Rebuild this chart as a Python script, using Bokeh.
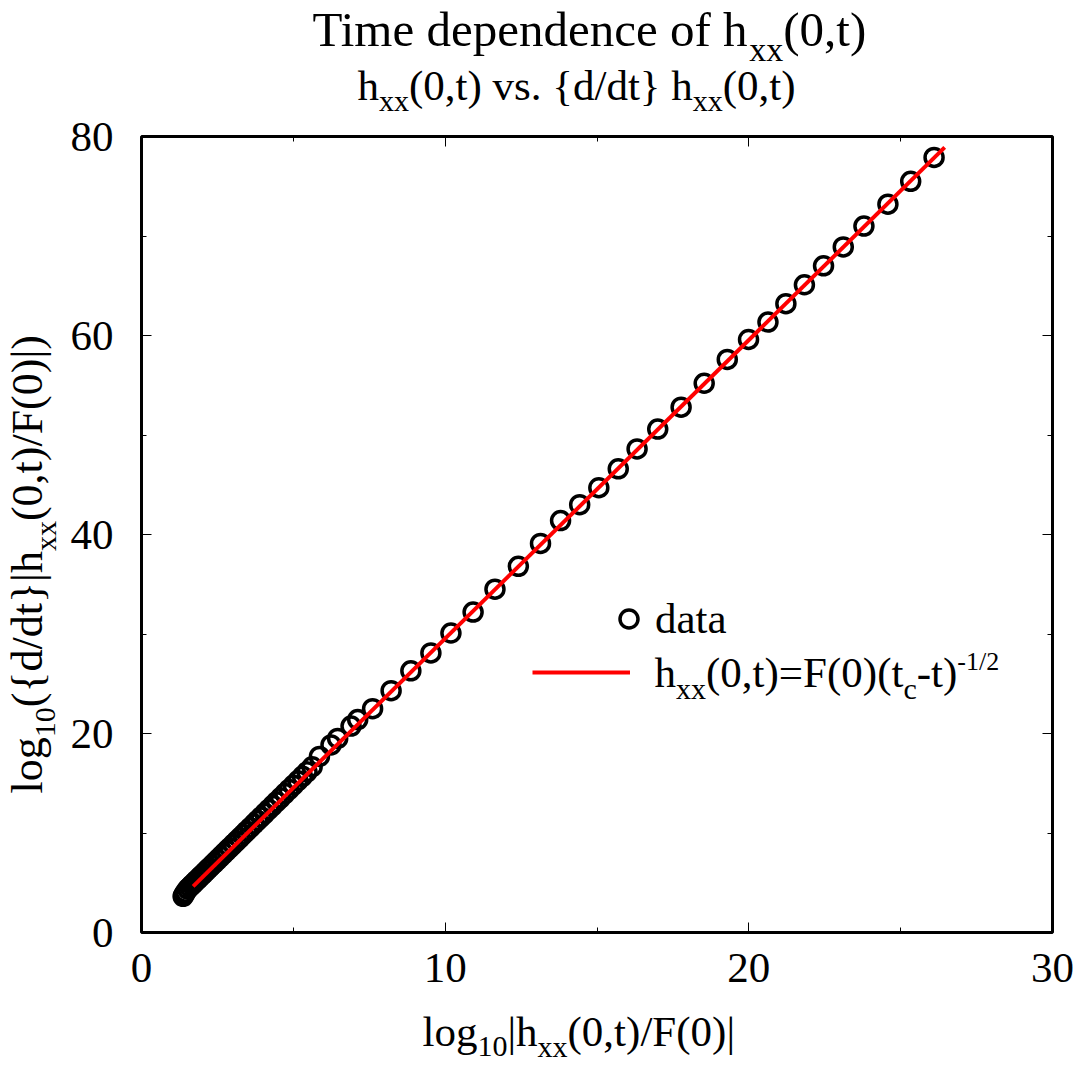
from math import pi
from bokeh.plotting import figure
from bokeh.layouts import column, row
from bokeh.core.properties import value
from bokeh.models import (Range1d, SingleIntervalTicker, LinearAxis, Label,
                          Legend, LegendItem)
from bokeh.embed import file_html
from bokeh.resources import INLINE

# ---------------- data ----------------
data_x = [1.37, 1.40, 1.45, 1.52, 1.59, 1.66, 1.73, 1.81, 1.89, 1.97,
          2.05, 2.14, 2.23, 2.32, 2.41, 2.51, 2.61, 2.71, 2.81, 2.91,
          3.02, 3.13, 3.24, 3.35, 3.46, 3.58, 3.70, 3.82, 3.94, 4.06,
          4.19, 4.32, 4.45, 4.58, 4.72, 4.86, 5.00, 5.15, 5.30, 5.45,
          5.62, 5.86, 6.24, 6.46, 6.90, 7.12, 7.61, 8.22, 8.87, 9.53,
          10.19, 10.92, 11.64, 12.41, 13.14, 13.80, 14.43, 15.06, 15.70, 16.32,
          17.00, 17.77, 18.53, 19.29, 19.99, 20.63, 21.22, 21.83, 22.46, 23.11,
          23.79, 24.58, 25.33, 26.10]
data_y = [3.64, 3.80, 4.05, 4.36, 4.57, 4.78, 4.99, 5.23, 5.47, 5.71,
          5.95, 6.22, 6.49, 6.76, 7.03, 7.33, 7.63, 7.93, 8.23, 8.53,
          8.86, 9.19, 9.52, 9.85, 10.18, 10.54, 10.90, 11.26, 11.62, 11.98,
          12.37, 12.76, 13.15, 13.54, 13.96, 14.38, 14.80, 15.25, 15.70, 16.15,
          16.66, 17.70, 18.85, 19.50, 20.75, 21.40, 22.50, 24.30, 26.30, 28.10,
          30.10, 32.20, 34.50, 36.80, 39.10, 41.40, 43.00, 44.70, 46.60, 48.60,
          50.60, 52.80, 55.20, 57.60, 59.60, 61.35, 63.20, 65.10, 67.00, 68.90,
          71.00, 73.20, 75.50, 77.90]

# fitted power law h = F(0)(t_c - t)^(-1/2)  ->  straight line of slope 3
fit_x = [1.70, 26.45]
fit_y = [4.64, 78.90]

x_ticks = [0, 10, 20, 30]
y_ticks = [0, 20, 40, 60, 80]

legend_data = "data"

# ---------------- layout constants (page pixels) ----------------
FONT = "Liberation Serif"
PW, PH = 1080, 1064                   # whole page area used
FL, FR, FT, FB = 141, 1052, 136, 932  # frame edges
TOP_H = 117                           # title strip height
LEFT_W = 66                           # y-label strip width
MAIN_BOTTOM = 1004                    # bottom of main figure
X_MAX, Y_MAX = x_ticks[-1], y_ticks[-1]
K = 0.36   # bokeh places the glyph baseline ~K*size below the anchor


def strip(width, x0, y0, y1, ft=None, fb=None):
    """Blank figure; data units = page pixels (y given as -page_y).
    ft/fb: frame top/bottom (so that the frame lines up with the main plot)."""
    ft = y0 if ft is None else ft
    fb = y1 if fb is None else fb
    f = figure(width=width, height=y1 - y0,
               x_range=Range1d(x0, x0 + width), y_range=Range1d(-fb, -ft),
               output_backend="svg", toolbar_location=None,
               x_axis_type=None, y_axis_type=None, min_border=0,
               min_border_top=ft - y0, min_border_bottom=y1 - fb)
    f.outline_line_color = None
    f.xgrid.visible = False
    f.ygrid.visible = False
    f.background_fill_color = "white"
    f.border_fill_color = "white"
    return f


W = {'T': 611, 'i': 278, 'm': 778, 'e': 444, ' ': 250, 'd': 500, 'p': 500,
     'n': 500, 'c': 444, 'o': 500, 'f': 333, 'h': 500, 'x': 500, '(': 333,
     ')': 333, '0': 500, '1': 500, '2': 500, ',': 250, 't': 278, 'v': 500,
     's': 389, '.': 250, '{': 480, '}': 480, '/': 278, 'l': 278, 'g': 500,
     '|': 200, 'F': 556, '=': 564, '-': 333}


def tw(s, size):
    return sum(W.get(c, 500) for c in s) * size / 1000.0


def strip_text_h(f, segs, x0, base, size, sub, sub_shift):
    x = x0
    for text, kind in segs:
        fs, b = (size, base) if kind == "n" else (sub, base + sub_shift)
        f.text(x=[x], y=[-(b - K * fs)], text=[text], text_font=value(FONT),
               text_font_size=value(f"{fs}px"), text_color="black",
               text_align="left", text_baseline="alphabetic")
        x += tw(text, fs)


def strip_text_v(f, segs, y0, base, size, sub, sub_shift):
    y = y0
    for text, kind in segs:
        fs, b = (size, base) if kind == "n" else (sub, base + sub_shift)
        w = tw(text, fs)
        f.text(x=[b - K * fs], y=[-(y - w / 2)], text=[text], text_font=value(FONT),
               text_font_size=value(f"{fs}px"), text_color="black",
               text_align="center", text_baseline="alphabetic", angle=pi / 2)
        y -= w


# ---------------- title strip ----------------
top = strip(PW, 0, 0, TOP_H)
strip_text_h(top, [("Time dependence of h", "n"), ("xx", "sub"), ("(0,t)", "n")],
             312, 47, 49, 34, 14)
strip_text_h(top, [("h", "n"), ("xx", "sub"), ("(0,t) vs. {d/dt} h", "n"),
                   ("xx", "sub"), ("(0,t)", "n")], 357, 100, 43, 30, 10.5)

# ---------------- y-label strip ----------------
left = strip(LEFT_W, 0, TOP_H, MAIN_BOTTOM, FT, FB)
strip_text_v(left, [("log", "n"), ("10", "sub"), ("({d/dt}|h", "n"), ("xx", "sub"),
                    ("(0,t)/F(0)|)", "n")], 793, 43, 44, 30, 13)

# ---------------- x-label strip ----------------
bottom = strip(PW, 0, MAIN_BOTTOM, PH)
strip_text_h(bottom, [("log", "n"), ("10", "sub"), ("|h", "n"), ("xx", "sub"),
                      ("(0,t)/F(0)|", "n")], 422, 1046, 43, 30, 11)

# ---------------- main plot ----------------
p = figure(width=PW - LEFT_W, height=MAIN_BOTTOM - TOP_H,
           x_range=Range1d(x_ticks[0], X_MAX), y_range=Range1d(y_ticks[0], Y_MAX),
           output_backend="svg", toolbar_location=None,
           min_border_left=FL - LEFT_W, min_border_right=PW - FR,
           min_border_top=FT - TOP_H, min_border_bottom=MAIN_BOTTOM - FB)
p.background_fill_color = "white"
p.border_fill_color = "white"
p.outline_line_color = "black"
p.outline_line_width = 3
p.xgrid.visible = False
p.ygrid.visible = False


def style_axis(ax, show_labels):
    ax.axis_line_color = None
    ax.major_tick_in = 10
    ax.major_tick_out = 0
    ax.minor_tick_in = 5
    ax.minor_tick_out = 0
    ax.major_tick_line_color = "black"
    ax.minor_tick_line_color = "black"
    ax.major_tick_line_width = 1
    ax.minor_tick_line_width = 1
    ax.major_label_text_font = FONT
    if show_labels:
        ax.major_label_text_color = "black"
        ax.major_label_text_font_size = "43px"
    else:
        ax.major_label_text_color = None
        ax.major_label_text_font_size = "1px"
        ax.major_label_standoff = 0


xt = lambda: SingleIntervalTicker(interval=x_ticks[1] - x_ticks[0], num_minor_ticks=2)
yt = lambda: SingleIntervalTicker(interval=y_ticks[1] - y_ticks[0], num_minor_ticks=2)

p.xaxis.ticker = xt()
p.yaxis.ticker = yt()
style_axis(p.xaxis[0], True)
style_axis(p.yaxis[0], True)
p.xaxis.major_label_standoff = 21
p.yaxis.major_label_standoff = 28

top_ax = LinearAxis(ticker=xt())
style_axis(top_ax, False)
p.add_layout(top_ax, "above")
right_ax = LinearAxis(ticker=yt())
style_axis(right_ax, False)
p.add_layout(right_ax, "right")

fit_r = p.line(fit_x, fit_y, line_color="#ff0000", line_width=4)
pts = p.scatter(data_x, data_y, marker="circle", size=18, fill_color=None,
                line_color="black", line_width=3.5)
fit_r.level = "overlay"

# ---------------- legend ----------------
legA = Legend(items=[LegendItem(label=legend_data, renderers=[pts])],
              location=(465, 289), glyph_width=45, glyph_height=45,
              label_standoff=4, padding=0, margin=0, spacing=0,
              label_text_font=FONT, label_text_font_size="43px",
              label_text_color="black",
              border_line_color=None, background_fill_alpha=0)
legB = Legend(items=[LegendItem(label=" ", renderers=[fit_r])],
              location=(391, 250), glyph_width=98, glyph_height=20,
              label_standoff=0, padding=0, margin=0, spacing=0,
              label_text_font=FONT, label_text_font_size="10px",
              border_line_color=None, background_fill_alpha=0)
p.add_layout(legA)
p.add_layout(legB)


def dx(px):
    return (px - FL) / (FR - FL) * X_MAX


def dy(py):
    return (FB - py) / (FB - FT) * Y_MAX


def label_h(segs, x0, base, size, sub, sub_shift, sup, sup_shift):
    x = x0
    for text, kind in segs:
        if kind == "n":
            fs, b = size, base
        elif kind == "sub":
            fs, b = sub, base + sub_shift
        else:
            fs, b = sup, base - sup_shift
        p.add_layout(Label(x=dx(x), y=dy(b - K * fs), text=text, text_font=FONT,
                           text_font_size=f"{fs}px", text_color="black",
                           text_align="left", text_baseline="alphabetic"))
        x += tw(text, fs)


label_h([("h", "n"), ("xx", "sub"), ("(0,t)=F(0)(t", "n"), ("c", "sub"),
         ("-t)", "n"), ("-1/2", "sup")], 654, 687, 43, 30, 12, 26, 17)

page = column(top, row(left, p), bottom)
open("out.html", "w").write(file_html(page, INLINE))
